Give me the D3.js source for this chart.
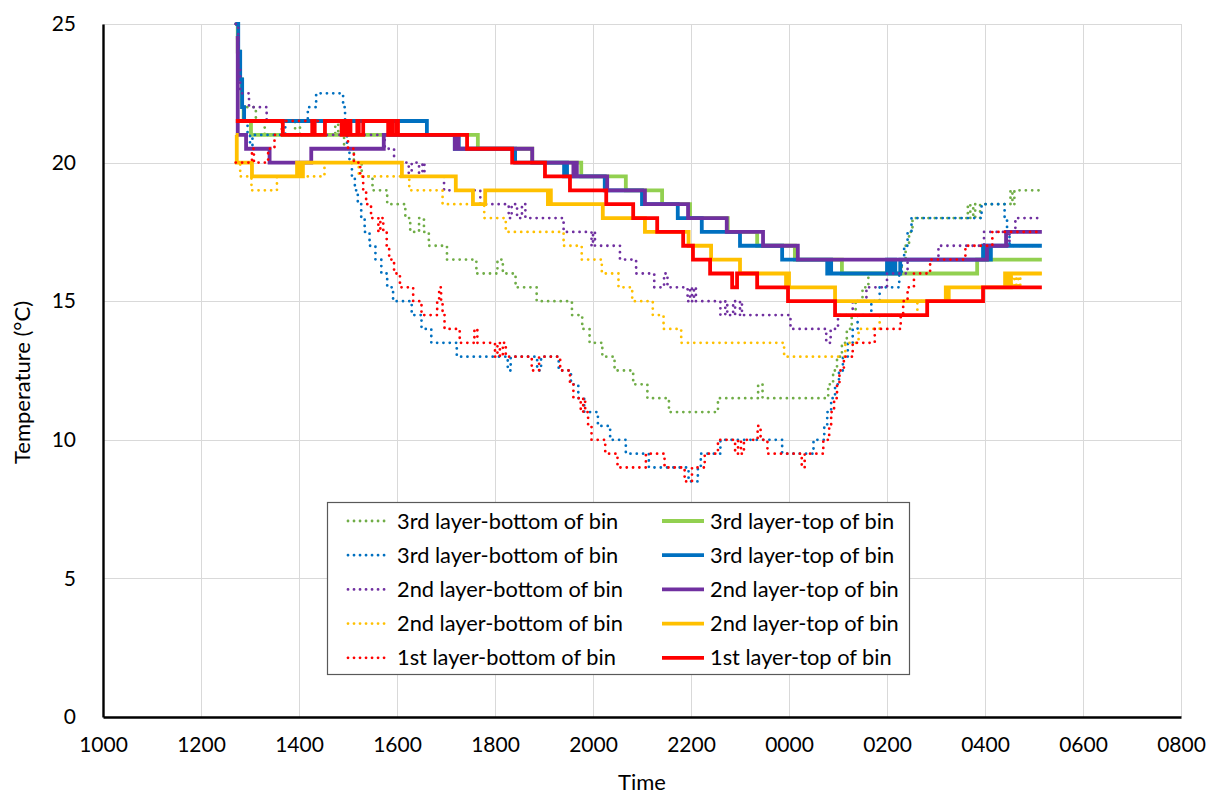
<!DOCTYPE html>
<html>
<head>
<meta charset="utf-8">
<script src="https://cdn.jsdelivr.net/npm/d3@7"></script>
<style>
  body { margin: 0; background: #fff; }
  svg { display: block; font-family: Lato, "Open Sans", sans-serif; }
</style>
</head>
<body>
<svg id="chart" width="1210" height="796"></svg>
<script>
// Temperatures (°C) logged at the bottom and top of each bin layer.
// Each pair is [hour, °C]; hours past 24 belong to the following morning.
// Readings are step values (0.5 °C resolution) held until the next change.

const layer3BottomA = [
  [12.71,25],[12.75,24],[12.78,23],[12.84,22],[13.12,21.5],[13.3,21],[13.92,21.5],[14.02,21],
  [14.74,21.5],[14.8,21],[14.92,20.5],[15.12,20],[15.28,19.5],[15.5,19],[15.8,18.5],[16.17,18],
  [16.27,17.5],[16.45,18],[16.55,17.5],[16.65,17],[17.02,16.5],[17.62,16],[18.05,16.5],[18.16,16],
  [18.42,15.5],[18.85,15],[19.57,14.5],[19.78,14],[19.93,13.5],[20.19,13],[20.44,12.5],[20.82,12],
  [21.11,11.5],[21.55,11],[22.55,11.5],[23.37,12],[23.46,11.5],[24.8,12],[24.9,12.5],[24.98,13],
  [25.08,13.5],[25.18,14],[25.28,14.5],[25.36,15],[25.5,15.5],[25.62,16],[26.3,16.5],[26.38,17],
  [26.45,17.5],[26.52,18],[27.65,18.5],[27.7,18],[27.76,18.5],[27.8,18],[27.9,18.5],[28.52,19],
  [28.56,18.5],[28.6,19],[29.16,19]
];

const layer3TopA = [
  [12.71,25],[12.75,24],[12.79,23],[12.83,22],[12.87,21.5],[13.02,21],[17.65,20.5],[18.76,20],
  [19.76,19.5],[20.67,19],[21.41,18.5],[21.98,18],[22.75,17.5],[23.35,17],[24.12,16.5],[25.08,16],
  [27.84,16.5],[29.16,16.5]
];

const layer3BottomB = [
  [12.71,25],[12.76,24],[12.8,23],[12.84,22],[12.88,21.5],[12.95,21],[13.0,20.5],[13.05,21],
  [13.72,21.5],[14.18,22],[14.35,22.5],[14.9,22],[14.94,21],[14.98,20.5],[15.03,20],[15.08,19.5],
  [15.14,19],[15.2,18.5],[15.27,18],[15.34,17.5],[15.44,17],[15.56,16.5],[15.68,16],[15.8,15.5],
  [15.92,15],[16.3,14.5],[16.5,14],[16.7,13.5],[17.22,13],[18.26,12.5],[18.32,13],[18.86,12.5],
  [18.94,13],[19.3,12.5],[19.55,12],[19.7,11.5],[19.82,11],[20.1,10.5],[20.35,10],[20.67,9.5],
  [21.14,9],[21.95,8.5],[22.14,9],[22.2,9.5],[22.6,10],[23.86,9.5],[24.5,10],[24.72,10.5],
  [24.78,11],[24.86,11.5],[24.94,12],[25.02,12.5],[25.1,13],[25.2,13.5],[25.3,14],[25.4,14.5],
  [25.68,15],[25.85,15.5],[26.25,16],[26.3,16.5],[26.35,17],[26.42,17.5],[26.5,18],[27.93,18.5],
  [28.4,18],[28.45,17.5],[28.5,17],[29.16,17]
];

const layer3TopB = [
  [12.71,25],[12.76,24],[12.8,23],[12.84,22],[12.88,21.5],[16.61,21],[17.18,20.5],[17.22,21],
  [17.26,20.5],[18.41,20],[19.41,19.5],[19.44,20],[19.47,19.5],[20.24,19],[21.0,18.5],[21.73,18],
  [22.22,17.5],[23.0,17],[23.86,16.5],[24.78,16],[24.82,16.5],[24.86,16],[26.0,16.5],[26.05,16],
  [26.12,16.5],[26.17,16],[26.27,16.5],[27.96,17],[28.0,16.5],[28.04,17],[28.08,16.5],[28.12,17],
  [29.16,17]
];

const layer2BottomA = [
  [12.71,25],[12.76,23.5],[12.8,22.5],[12.98,22],[13.34,21.5],[13.67,21],[15.75,20.5],[15.94,20],
  [16.24,19.5],[16.3,20],[16.45,19.5],[16.52,20],[16.56,19.5],[16.96,19],[17.7,18.5],[18.28,18],
  [18.34,18.5],[18.45,18],[18.55,18.5],[18.62,18],[19.4,17.5],[19.97,17],[20.0,17.5],[20.04,17],
  [20.55,16.5],[20.88,16],[21.25,15.5],[21.45,16],[21.52,15.5],[21.93,15],[21.98,15.5],[22.02,15],
  [22.06,15.5],[22.1,15],[22.6,14.5],[22.7,15],[22.74,14.5],[22.86,15],[22.9,14.5],[23.0,15],
  [23.04,14.5],[24.03,14],[24.76,13.5],[24.85,14],[25.0,14.5],[25.3,15],[25.58,15.5],[26.0,16],
  [26.42,16.5],[27.05,17],[27.98,17.5],[28.45,17],[28.5,17.5],[28.62,18],[29.16,18]
];

const layer2TopA = [
  [12.71,24.5],[12.75,21],[12.92,20.5],[13.4,20],[14.25,20.5],[15.73,21],[17.18,20.5],[17.21,21],
  [17.25,20.5],[18.76,20],[19.6,19.5],[19.63,20],[19.67,19.5],[20.29,19],[21.06,18.5],[21.94,18],
  [22.73,17.5],[23.47,17],[24.18,16.5],[28.04,17],[28.43,17.5],[29.16,17.5]
];

const layer2BottomB = [
  [12.71,20],[12.8,19.5],[13.03,19],[13.55,19.5],[14.52,20],[15.22,19.5],[16.25,19],[16.93,18.5],
  [17.78,18],[18.22,17.5],[19.4,17],[19.77,16.5],[20.18,16],[20.52,15.5],[20.8,15],[21.22,14.5],
  [21.44,14],[21.8,13.5],[23.9,13],[25.15,13.5],[25.42,14],[25.85,14.5],[26.62,15],[27.2,15.5],
  [28.55,16],[28.6,15.5],[28.64,16],[28.68,15.5],[28.72,16],[29.16,16]
];

const layer2TopB = [
  [12.71,21],[12.73,20],[13.04,19.5],[13.96,20],[13.99,19.5],[14.02,20],[14.05,19.5],[14.08,20],
  [16.1,19.5],[17.2,19],[17.55,18.5],[17.8,19],[19.08,18.5],[19.11,19],[19.14,18.5],[20.2,18],
  [21.06,17.5],[21.95,17],[22.41,16.5],[23.0,16],[23.94,15.5],[23.97,16],[24.0,15.5],[24.94,15],
  [27.2,15.5],[27.23,15],[27.26,15.5],[28.41,16],[28.44,15.5],[28.47,16],[28.5,15.5],[28.53,16],
  [29.16,16]
];

const layer1Bottom = [
  [12.71,20],[13.04,20.5],[13.08,20],[13.37,20.5],[13.5,21],[13.65,21.5],[14.92,21],[15.0,20.5],
  [15.12,20],[15.25,19.5],[15.31,19],[15.37,18.5],[15.47,18],[15.62,17.5],[15.66,18],[15.72,17.5],
  [15.79,17],[15.84,16.5],[15.94,16],[16.06,15.5],[16.33,15],[16.5,14.5],[16.82,15],[16.86,15.5],
  [16.9,15],[16.93,14.5],[16.97,14],[17.28,13.5],[17.58,14],[17.64,13.5],[18.0,13],[18.05,13.5],
  [18.1,13],[18.16,13.5],[18.22,13],[18.75,12.5],[18.9,13],[19.33,12.5],[19.53,12],[19.6,11.5],
  [19.75,11],[19.8,11.5],[19.84,11],[19.9,10.5],[19.97,10],[20.25,9.5],[20.5,9],[21.08,9.5],
  [21.46,9],[21.87,8.5],[22.02,9],[22.28,9.5],[22.55,10],[22.9,9.5],[22.96,10],[23.02,9.5],
  [23.08,10],[23.36,10.5],[23.42,10],[23.56,9.5],[24.26,9],[24.32,9.5],[24.7,10],[24.82,10.5],
  [24.86,11],[24.92,11.5],[24.98,12],[25.03,12.5],[25.12,13],[25.3,13.5],[25.75,14],[26.28,14.5],
  [26.33,15],[26.42,15.5],[26.55,16],[26.88,16.5],[27.6,17],[28.15,17.5],[29.16,17.5]
];

const layer1Top = [
  [12.71,21.5],[13.67,21],[14.27,21.5],[14.32,21],[14.53,21.5],[14.87,21],[14.93,21.5],[14.97,21],
  [15.02,21.5],[15.05,21],[15.19,21.5],[15.22,21],[15.31,21.5],[15.82,21],[15.87,21.5],[15.9,21],
  [15.98,21.5],[16.02,21],[17.43,20.5],[18.35,20],[19.02,19.5],[19.53,19],[20.27,18.5],[20.82,18],
  [21.31,17.5],[21.84,17],[22.04,16.5],[22.39,16],[22.84,15.5],[22.94,16],[23.35,15.5],[23.98,15],
  [24.94,14.5],[26.82,15],[27.96,15.5],[29.16,15.5]
];

// Axis ticks
const hourTicks = [10, 12, 14, 16, 18, 20, 22, 24, 26, 28, 30, 32];
const tempTicks = [0, 5, 10, 15, 20, 25];

// Series in drawing / legend order
const series = [
  { name: "3rd layer-bottom of bin", values: layer3BottomA, color: "#70AD47", dotted: true },
  { name: "3rd layer-top of bin",    values: layer3TopA,    color: "#92D050", dotted: false },
  { name: "3rd layer-bottom of bin", values: layer3BottomB, color: "#0070C0", dotted: true },
  { name: "3rd layer-top of bin",    values: layer3TopB,    color: "#0070C0", dotted: false },
  { name: "2nd layer-bottom of bin", values: layer2BottomA, color: "#7030A0", dotted: true },
  { name: "2nd layer-top of bin",    values: layer2TopA,    color: "#7030A0", dotted: false },
  { name: "2nd layer-bottom of bin", values: layer2BottomB, color: "#FFC000", dotted: true },
  { name: "2nd layer-top of bin",    values: layer2TopB,    color: "#FFC000", dotted: false },
  { name: "1st layer-bottom of bin", values: layer1Bottom,  color: "#FF0000", dotted: true },
  { name: "1st layer-top of bin",    values: layer1Top,     color: "#FF0000", dotted: false }
];

const svg = d3.select("#chart");
const plot = { left: 103, right: 1181, top: 24, bottom: 717 };

const x = d3.scaleLinear().domain([10, 32]).range([plot.left, plot.right]);
const y = d3.scaleLinear().domain([0, 25]).range([plot.bottom, plot.top]);

const fmtHour = h => String((h % 24) * 100).padStart(4, "0");

// Gridlines
const grid = svg.append("g").attr("stroke", "#d9d9d9").attr("stroke-width", 1);
grid.selectAll("line.h").data(tempTicks.filter(t => t > 0)).join("line")
  .attr("x1", plot.left).attr("x2", plot.right)
  .attr("y1", d => Math.round(y(d)) + 0.5).attr("y2", d => Math.round(y(d)) + 0.5);
grid.selectAll("line.v").data(hourTicks.filter(t => t > 10)).join("line")
  .attr("y1", plot.top).attr("y2", plot.bottom)
  .attr("x1", d => Math.round(x(d)) + 0.5).attr("x2", d => Math.round(x(d)) + 0.5);

// Series lines
const line = d3.line()
  .x(d => x(d[0]))
  .y(d => y(d[1]))
  .curve(d3.curveStepAfter);

const dotW = 2.8, solidW = 3.8;

svg.append("g").selectAll("path").data(series).join("path")
  .attr("d", d => line(d.values))
  .attr("fill", "none")
  .attr("stroke", d => d.color)
  .attr("stroke-width", d => d.dotted ? dotW : solidW)
  .attr("stroke-linecap", d => d.dotted ? "round" : "butt")
  .attr("stroke-linejoin", "miter")
  .attr("stroke-dasharray", d => d.dotted ? "0.01 6.3" : null);

// Axes
const yAxis = svg.append("g")
  .attr("transform", `translate(${plot.left},0)`)
  .call(d3.axisLeft(y).tickValues(tempTicks).tickSize(0).tickPadding(27));
const xAxis = svg.append("g")
  .attr("transform", `translate(0,${plot.bottom})`)
  .call(d3.axisBottom(x).tickValues(hourTicks).tickFormat(fmtHour).tickSize(0).tickPadding(20));

[yAxis, xAxis].forEach(g => {
  g.select(".domain").attr("stroke", "#000").attr("stroke-width", 2.4);
  g.selectAll("text").attr("font-family", "Lato, sans-serif").attr("font-size", 21).attr("fill", "#000");
});

// Axis titles
svg.append("text")
  .attr("x", x(21)).attr("y", 790)
  .attr("text-anchor", "middle")
  .attr("font-size", 22)
  .text("Time");

svg.append("text")
  .attr("transform", `translate(30,${(plot.top + plot.bottom) / 2 + 12}) rotate(-90)`)
  .attr("text-anchor", "middle")
  .attr("font-size", 22)
  .text("Temperature (°C)");

// Legend
const legend = svg.append("g");
legend.append("rect")
  .attr("x", 327.5).attr("y", 502.5).attr("width", 582).attr("height", 172)
  .attr("fill", "#fff").attr("stroke", "#595959").attr("stroke-width", 1.2);

const cols = [{ lx: 348, tx: 397 }, { lx: 662, tx: 710 }];
const rowY = i => 521 + i * 34.2;

const items = legend.selectAll("g.item").data(series).join("g")
  .attr("transform", (d, i) => `translate(0,${rowY(Math.floor(i / 2))})`);
items.append("line")
  .attr("x1", (d, i) => cols[i % 2].lx).attr("x2", (d, i) => cols[i % 2].lx + 42)
  .attr("stroke", d => d.color)
  .attr("stroke-width", d => d.dotted ? dotW : solidW)
  .attr("stroke-linecap", d => d.dotted ? "round" : "butt")
  .attr("stroke-dasharray", d => d.dotted ? "0.01 6" : null);
items.append("text")
  .attr("x", (d, i) => cols[i % 2].tx)
  .attr("dy", "0.35em")
  .attr("font-size", 21.8)
  .text(d => d.name);
</script>
</body>
</html>
